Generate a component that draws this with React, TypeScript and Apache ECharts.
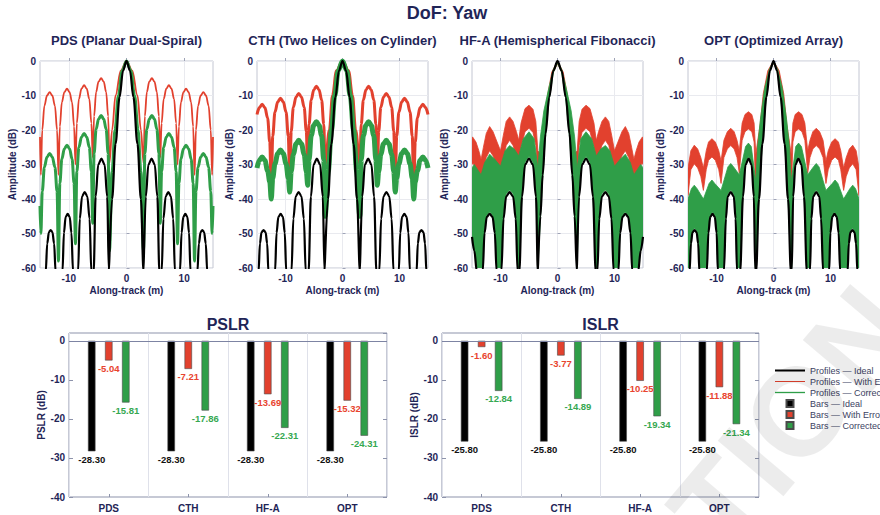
import React, { useEffect, useRef } from 'react';
import * as echarts from 'echarts';

// ---------- texts ----------
const MAIN_TITLE = 'DoF: Yaw';
const panelTitles = ['PDS (Planar Dual-Spiral)', 'CTH (Two Helices on Cylinder)', 'HF-A (Hemispherical Fibonacci)', 'OPT (Optimized Array)'];
const xTickValues = [-10, 0, 10];
const categories = ['PDS', 'CTH', 'HF-A', 'OPT'];
const legendNames = ['Profiles — Ideal', 'Profiles — With Errors', 'Profiles — Corrected', 'Bars — Ideal', 'Bars — With Errors', 'Bars — Corrected'];

// ---------- bar values ----------
const pslrIdeal = [-28.30, -28.30, -28.30, -28.30];
const pslrErr = [-5.04, -7.21, -13.69, -15.32];
const pslrCorr = [-15.81, -17.86, -22.31, -24.31];
const islrIdeal = [-25.80, -25.80, -25.80, -25.80];
const islrErr = [-1.60, -3.77, -10.25, -11.88];
const islrCorr = [-12.84, -14.89, -19.34, -21.34];

// ---------- profiles (x in m, amplitude in dB) ----------
const pdsIdeal = [
[-15,-64],[-14.0,-61],[-13.75,-52.9],[-13.45,-49.6],[-13.15,-49],[-12.85,-49.6],[-12.55,-52.9],[-12.3,-61],
[-11.1,-61],[-10.85,-49.8],[-10.55,-45.2],[-10.2,-44.3],[-9.85,-45.2],[-9.55,-49.8],[-9.27,-61],
[-8.4,-61],[-8.1,-45.7],[-7.7,-39.2],[-7.25,-38],[-6.8,-39.2],[-6.4,-45.7],[-6.1,-61],
[-5.7,-61],[-5.35,-39.3],[-4.9,-30],[-4.35,-28.3],[-3.8,-30],[-3.35,-39.3],[-3.05,-61],
[-2.95,-61],[-2.5,-40],[-1.9,-24],[-1.2,-10.5],[-0.6,-2.8],[0,0],
[0.6,-2.8],[1.2,-10.5],[1.9,-24],[2.5,-40],[2.95,-61],
[3.05,-61],[3.35,-39.3],[3.8,-30],[4.35,-28.3],[4.9,-30],[5.35,-39.3],[5.7,-61],
[6.1,-61],[6.4,-45.7],[6.8,-39.2],[7.25,-38],[7.7,-39.2],[8.1,-45.7],[8.4,-61],
[9.27,-61],[9.55,-49.8],[9.85,-45.2],[10.2,-44.3],[10.55,-45.2],[10.85,-49.8],[11.1,-61],
[12.3,-61],[12.55,-52.9],[12.85,-49.6],[13.15,-49],[13.45,-49.6],[13.75,-52.9],[14.0,-61],[15,-64]];
const pdsErr = [
[-15,-22],[-14.85,-33],[-14.61,-20],[-14.24,-13],[-13.78,-10],[-13.32,-9],[-12.87,-10],[-12.41,-13],[-12.04,-20],[-11.8,-33],
[-11.56,-19],[-11.21,-12],[-10.77,-9],[-10.32,-8],[-9.88,-9],[-9.44,-12],[-9.09,-19],[-8.85,-30],
[-8.61,-18],[-8.25,-11],[-7.8,-8],[-7.35,-7],[-6.9,-8],[-6.45,-11],[-6.09,-18],[-5.85,-28],
[-5.62,-16],[-5.27,-9],[-4.85,-6],[-4.4,-5],[-3.95,-6],[-3.53,-9],[-3.18,-16],[-2.95,-29.5],
[-2.5,-20],[-1.9,-10],[-1.0,-2.8],[0,0],
[1.0,-2.8],[1.9,-10],[2.5,-20],[2.95,-29.5],
[3.18,-16],[3.53,-9],[3.95,-6],[4.4,-5],[4.85,-6],[5.27,-9],[5.62,-16],[5.85,-28],
[6.09,-18],[6.45,-11],[6.9,-8],[7.35,-7],[7.8,-8],[8.25,-11],[8.61,-18],[8.85,-30],
[9.09,-19],[9.44,-12],[9.88,-9],[10.32,-8],[10.77,-9],[11.21,-12],[11.56,-19],[11.8,-33],
[12.04,-20],[12.41,-13],[12.87,-10],[13.32,-9],[13.78,-10],[14.24,-13],[14.61,-20],[14.85,-33],[15,-22]];
const pdsCorr = [
[-15,-42],[-14.85,-50],[-14.61,-37.8],[-14.24,-30.8],[-13.78,-27.8],[-13.32,-26.8],[-12.87,-27.8],[-12.41,-30.8],[-12.04,-37.8],[-11.8,-58],
[-11.56,-35.4],[-11.21,-28.4],[-10.77,-25.4],[-10.32,-24.4],[-9.88,-25.4],[-9.44,-28.4],[-9.09,-35.4],[-8.85,-53],
[-8.61,-32],[-8.25,-25],[-7.8,-22],[-7.35,-21],[-6.9,-22],[-6.45,-25],[-6.09,-32],[-5.85,-47],
[-5.62,-26.8],[-5.27,-19.8],[-4.85,-16.8],[-4.4,-15.8],[-3.95,-16.8],[-3.53,-19.8],[-3.18,-26.8],[-2.95,-55],
[-2.5,-32],[-2.0,-20],[-1.4,-10],[-0.75,-2.8],[0,0],
[0.75,-2.8],[1.4,-10],[2.0,-20],[2.5,-32],[2.95,-55],
[3.18,-26.8],[3.53,-19.8],[3.95,-16.8],[4.4,-15.8],[4.85,-16.8],[5.27,-19.8],[5.62,-26.8],[5.85,-47],
[6.09,-32],[6.45,-25],[6.9,-22],[7.35,-21],[7.8,-22],[8.25,-25],[8.61,-32],[8.85,-53],
[9.09,-35.4],[9.44,-28.4],[9.88,-25.4],[10.32,-24.4],[10.77,-25.4],[11.21,-28.4],[11.56,-35.4],[11.8,-58],
[12.04,-37.8],[12.41,-30.8],[12.87,-27.8],[13.32,-26.8],[13.78,-27.8],[14.24,-30.8],[14.61,-37.8],[14.85,-50],[15,-42]];

const cthIdeal = [
[-15,-64],[-14.72,-61],[-14.49,-52.9],[-14.2,-49.6],[-13.85,-49],[-13.5,-49.6],[-13.21,-52.9],[-13.0,-61],
[-11.83,-61],[-11.57,-49.8],[-11.25,-45.2],[-10.85,-44.3],[-10.45,-45.2],[-10.13,-49.8],[-9.87,-61],
[-8.95,-61],[-8.62,-45.7],[-8.2,-39.2],[-7.7,-38],[-7.2,-39.2],[-6.78,-45.7],[-6.45,-61],
[-5.95,-61],[-5.54,-39.3],[-5.07,-30],[-4.5,-28.3],[-3.93,-30],[-3.46,-39.3],[-3.15,-61],
[-3.05,-61],[-2.55,-40],[-1.95,-24],[-1.25,-10.5],[-0.62,-2.8],[0,0],
[0.62,-2.8],[1.25,-10.5],[1.95,-24],[2.55,-40],[3.05,-61],
[3.15,-61],[3.46,-39.3],[3.93,-30],[4.5,-28.3],[5.07,-30],[5.54,-39.3],[5.95,-61],
[6.45,-61],[6.78,-45.7],[7.2,-39.2],[7.7,-38],[8.2,-39.2],[8.62,-45.7],[8.95,-61],
[9.87,-61],[10.13,-49.8],[10.45,-45.2],[10.85,-44.3],[11.25,-45.2],[11.57,-49.8],[11.83,-61],
[13.0,-61],[13.21,-52.9],[13.5,-49.6],[13.85,-49],[14.2,-49.6],[14.49,-52.9],[14.72,-61],[15,-64]];
const cthErr = [
[-15,-15.5],[-14.58,-13.5],[-14.1,-12.5],[-13.62,-13.5],[-13.14,-16.5],[-12.76,-23.5],[-12.5,-38],
[-12.24,-21.8],[-11.85,-14.8],[-11.36,-11.8],[-10.88,-10.8],[-10.39,-11.8],[-9.9,-14.8],[-9.51,-21.8],[-9.25,-36.5],
[-9.0,-20.4],[-8.62,-13.4],[-8.15,-10.4],[-7.68,-9.4],[-7.2,-10.4],[-6.73,-13.4],[-6.35,-20.4],[-6.1,-33],
[-5.86,-18.3],[-5.49,-11.3],[-5.03,-8.3],[-4.58,-7.3],[-4.12,-8.3],[-3.66,-11.3],[-3.29,-18.3],[-3.05,-30],
[-2.3,-20],[-1.75,-10],[-1.05,-2.8],[0,0],
[1.05,-2.8],[1.75,-10],[2.3,-20],[3.05,-30],
[3.29,-18.3],[3.66,-11.3],[4.12,-8.3],[4.58,-7.3],[5.03,-8.3],[5.49,-11.3],[5.86,-18.3],[6.1,-33],
[6.35,-20.4],[6.73,-13.4],[7.2,-10.4],[7.68,-9.4],[8.15,-10.4],[8.62,-13.4],[9.0,-20.4],[9.25,-36.5],
[9.51,-21.8],[9.9,-14.8],[10.39,-11.8],[10.88,-10.8],[11.36,-11.8],[11.85,-14.8],[12.24,-21.8],[12.5,-38],
[12.76,-23.5],[13.14,-16.5],[13.62,-13.5],[14.1,-12.5],[14.58,-13.5],[15,-15.5]];
const cthCorr = [
[-15,-31],[-14.58,-28.8],[-14.1,-27.8],[-13.62,-28.8],[-13.14,-31.8],[-12.76,-35],[-12.5,-40],
[-12.24,-34],[-11.85,-29.8],[-11.36,-26.8],[-10.88,-25.8],[-10.39,-26.8],[-9.9,-29.8],[-9.51,-34],[-9.25,-38],
[-9.0,-32],[-8.62,-27],[-8.15,-24],[-7.68,-23],[-7.2,-24],[-6.73,-27],[-6.35,-32],[-6.1,-36],
[-5.86,-28.6],[-5.49,-21.6],[-5.03,-18.6],[-4.58,-17.6],[-4.12,-18.6],[-3.66,-21.6],[-3.29,-28.6],[-3.05,-45],
[-2.5,-32],[-1.95,-20],[-1.35,-10],[-0.75,-2.8],[0,0],
[0.75,-2.8],[1.35,-10],[1.95,-20],[2.5,-32],[3.05,-45],
[3.29,-28.6],[3.66,-21.6],[4.12,-18.6],[4.58,-17.6],[5.03,-18.6],[5.49,-21.6],[5.86,-28.6],[6.1,-36],
[6.35,-32],[6.73,-27],[7.2,-24],[7.68,-23],[8.15,-24],[8.62,-27],[9.0,-32],[9.25,-38],
[9.51,-34],[9.9,-29.8],[10.39,-26.8],[10.88,-25.8],[11.36,-26.8],[11.85,-29.8],[12.24,-34],[12.5,-40],
[12.76,-35],[13.14,-31.8],[13.62,-28.8],[14.1,-27.8],[14.58,-28.8],[15,-31]];

const hfaIdeal = [
[-15,-51],[-14.6,-55],[-14.15,-61],
[-13.12,-61],[-12.8,-49.8],[-12.4,-45.2],[-11.9,-44.3],[-11.4,-45.2],[-11.0,-49.8],[-10.68,-61],
[-9.85,-61],[-9.47,-45.7],[-9.0,-39.2],[-8.4,-38],[-7.8,-39.2],[-7.33,-45.7],[-7.0,-61],
[-6.7,-61],[-6.22,-39.3],[-5.68,-30],[-5.0,-28.3],[-4.32,-30],[-3.78,-39.3],[-3.45,-61],
[-3.4,-61],[-3.0,-45],[-2.6,-33],[-2.1,-21],[-1.45,-10.5],[-0.72,-2.8],[0,0],
[0.72,-2.8],[1.45,-10.5],[2.1,-21],[2.6,-33],[3.0,-45],[3.4,-61],
[3.45,-61],[3.78,-39.3],[4.32,-30],[5.0,-28.3],[5.68,-30],[6.22,-39.3],[6.7,-61],
[7.0,-61],[7.33,-45.7],[7.8,-39.2],[8.4,-38],[9.0,-39.2],[9.47,-45.7],[9.85,-61],
[10.68,-61],[11.0,-49.8],[11.4,-45.2],[11.9,-44.3],[12.4,-45.2],[12.8,-49.8],[13.12,-61],
[14.15,-61],[14.6,-55],[15,-51]];
const hfaErrUp = [
[-15,-22.5],[-14.9,-22],[-14.3,-23.5],[-13.8,-26],[-13.4,-28.5],[-13.0,-25],[-12.5,-21],[-11.9,-19],[-11.3,-20.5],[-10.6,-23.5],[-10.0,-26],[-9.5,-21.5],[-9.0,-17.5],[-8.4,-16.2],[-7.8,-17.5],[-7.2,-20.5],[-6.8,-23],[-6.4,-18],[-5.7,-13.8],[-5.0,-12.8],[-4.3,-14],[-3.8,-17.5],[-3.45,-26],[-2.95,-27],[-2.35,-20],[-1.75,-10],[-1.0,-3.2],[0,0],
[1.0,-3.2],[1.75,-10],[2.35,-20],[2.95,-27],[3.45,-26],[3.8,-17.5],[4.3,-14],[5.0,-12.8],[5.7,-13.8],[6.4,-18],[6.8,-23],[7.2,-20.5],[7.8,-17.5],[8.4,-16.2],[9.0,-17.5],[9.5,-21.5],[10.0,-26],[10.6,-23.5],[11.3,-20.5],[11.9,-19],[12.5,-21],[13.0,-25],[13.4,-28.5],[13.8,-26],[14.3,-23.5],[14.9,-22],[15,-22.5]];
const hfaErrLo = [
[-15,-30],[-14.9,-29.5],[-14.3,-31],[-13.8,-33.5],[-13.4,-36],[-13.0,-32.5],[-12.5,-28],[-11.9,-26],[-11.3,-27.5],[-10.6,-30.5],[-10.0,-33.5],[-9.5,-28.5],[-9.0,-24.5],[-8.4,-23],[-7.8,-24.5],[-7.2,-27.5],[-6.8,-30.5],[-6.4,-25],[-5.7,-20.5],[-5.0,-19.5],[-4.3,-20.7],[-3.8,-24.5],[-3.45,-34],[-2.95,-31],[-2.3,-22],[-1.65,-11.5],[-0.9,-3.8],[0,-0.8],
[0.9,-3.8],[1.65,-11.5],[2.3,-22],[2.95,-31],[3.45,-34],[3.8,-24.5],[4.3,-20.7],[5.0,-19.5],[5.7,-20.5],[6.4,-25],[6.8,-30.5],[7.2,-27.5],[7.8,-24.5],[8.4,-23],[9.0,-24.5],[9.5,-28.5],[10.0,-33.5],[10.6,-30.5],[11.3,-27.5],[11.9,-26],[12.5,-28],[13.0,-32.5],[13.4,-36],[13.8,-33.5],[14.3,-31],[14.9,-29.5],[15,-30]];
const hfaCorrUp = [
[-15,-31],[-14.6,-30],[-14.0,-31.5],[-13.4,-33],[-12.8,-29.5],[-11.9,-27],[-11.0,-28.5],[-10.0,-30.5],[-9.2,-26],[-8.4,-24.5],[-7.6,-25.5],[-6.8,-27.5],[-6.0,-22.5],[-5.0,-20.5],[-4.1,-22.5],[-3.45,-31],[-3.0,-22],[-2.4,-14.5],[-1.55,-8],[-0.75,-2.5],[0,0],
[0.75,-2.5],[1.55,-8],[2.4,-14.5],[3.0,-22],[3.45,-31],[4.1,-22.5],[5.0,-20.5],[6.0,-22.5],[6.8,-27.5],[7.6,-25.5],[8.4,-24.5],[9.2,-26],[10.0,-30.5],[11.0,-28.5],[11.9,-27],[12.8,-29.5],[13.4,-33],[14.0,-31.5],[14.6,-30],[15,-31]];
const hfaCorrLo = [
[-15,-51],[-14.6,-55],[-14.15,-60],[-13.12,-60],[-12.8,-49],[-12.4,-44.7],[-11.9,-43.8],[-11.4,-44.7],[-11.0,-49],[-10.68,-60],[-9.85,-60],[-9.47,-44.5],[-9.0,-38.5],[-8.4,-37.4],[-7.8,-38.5],[-7.33,-44.5],[-7.0,-60],[-6.7,-60],[-6.22,-38],[-5.68,-29.3],[-5.0,-27.7],[-4.32,-29.3],[-3.78,-38],[-3.45,-60],[-3.0,-46],[-2.6,-34],[-2.1,-22],[-1.45,-11],[-0.72,-3.3],[0,-0.6],
[0.72,-3.3],[1.45,-11],[2.1,-22],[2.6,-34],[3.0,-46],[3.45,-60],[3.78,-38],[4.32,-29.3],[5.0,-27.7],[5.68,-29.3],[6.22,-38],[6.7,-60],[7.0,-60],[7.33,-44.5],[7.8,-38.5],[8.4,-37.4],[9.0,-38.5],[9.47,-44.5],[9.85,-60],[10.68,-60],[11.0,-49],[11.4,-44.7],[11.9,-43.8],[12.4,-44.7],[12.8,-49],[13.12,-60],[14.15,-60],[14.6,-55],[15,-51]];

const optIdeal = [
[-15,-64],[-14.72,-61],[-14.49,-52.9],[-14.2,-49.6],[-13.85,-49],[-13.5,-49.6],[-13.21,-52.9],[-13.0,-61],
[-11.7,-61],[-11.42,-49.8],[-11.1,-45.2],[-10.7,-44.3],[-10.3,-45.2],[-9.98,-49.8],[-9.75,-61],
[-8.7,-61],[-8.35,-45.7],[-8.03,-39.2],[-7.5,-38],[-6.97,-39.2],[-6.65,-45.7],[-6.4,-61],
[-5.85,-61],[-5.35,-39.3],[-4.9,-30],[-4.37,-28.3],[-3.85,-30],[-3.45,-39.3],[-3.2,-61],
[-3.05,-61],[-2.55,-40],[-1.95,-24],[-1.25,-10.5],[-0.62,-2.8],[0,0],
[0.62,-2.8],[1.25,-10.5],[1.95,-24],[2.55,-40],[3.05,-61],
[3.2,-61],[3.45,-39.3],[3.85,-30],[4.37,-28.3],[4.9,-30],[5.35,-39.3],[5.85,-61],
[6.4,-61],[6.65,-45.7],[6.97,-39.2],[7.5,-38],[8.03,-39.2],[8.35,-45.7],[8.7,-61],
[9.75,-61],[9.98,-49.8],[10.3,-45.2],[10.7,-44.3],[11.1,-45.2],[11.42,-49.8],[11.7,-61],
[13.0,-61],[13.21,-52.9],[13.5,-49.6],[13.85,-49],[14.2,-49.6],[14.49,-52.9],[14.72,-61],[15,-64]];
const optErrUp = [
[-15,-31],[-14.5,-26],[-13.9,-24.4],[-13.3,-25.5],[-12.75,-28],[-12.3,-31],[-11.8,-26],[-11.4,-23.5],[-10.8,-22.5],[-10.2,-23.5],[-9.6,-26],[-9.2,-29],[-8.7,-23],[-8.1,-20.5],[-7.5,-19.5],[-6.9,-20.5],[-6.4,-23],[-6.0,-26],[-5.5,-18],[-5.0,-15.5],[-4.4,-14.7],[-3.8,-15.5],[-3.4,-18],[-3.1,-27],[-2.85,-24],[-2.35,-18.5],[-1.8,-9.5],[-1.0,-2.8],[0,0],
[1.0,-2.8],[1.8,-9.5],[2.35,-18.5],[2.85,-24],[3.1,-27],[3.4,-18],[3.8,-15.5],[4.4,-14.7],[5.0,-15.5],[5.5,-18],[6.0,-26],[6.4,-23],[6.9,-20.5],[7.5,-19.5],[8.1,-20.5],[8.7,-23],[9.2,-29],[9.6,-26],[10.2,-23.5],[10.8,-22.5],[11.4,-23.5],[11.8,-26],[12.3,-31],[12.75,-28],[13.3,-25.5],[13.9,-24.4],[14.5,-26],[15,-31]];
const optErrLo = [
[-15,-39],[-14.5,-31.5],[-13.9,-29.8],[-13.3,-31],[-12.75,-33.5],[-12.3,-37.5],[-11.8,-31.5],[-11.4,-28.8],[-10.8,-27.8],[-10.2,-28.8],[-9.6,-31.5],[-9.2,-35.5],[-8.7,-28],[-8.1,-25.5],[-7.5,-24.5],[-6.9,-25.5],[-6.4,-28],[-6.0,-32.5],[-5.5,-23],[-5.0,-20.5],[-4.4,-19.7],[-3.8,-20.5],[-3.4,-23.5],[-3.1,-40],[-2.85,-29],[-2.3,-21],[-1.7,-11],[-0.9,-3.3],[0,-0.8],
[0.9,-3.3],[1.7,-11],[2.3,-21],[2.85,-29],[3.1,-40],[3.4,-23.5],[3.8,-20.5],[4.4,-19.7],[5.0,-20.5],[5.5,-23],[6.0,-32.5],[6.4,-28],[6.9,-25.5],[7.5,-24.5],[8.1,-25.5],[8.7,-28],[9.2,-35.5],[9.6,-31.5],[10.2,-28.8],[10.8,-27.8],[11.4,-28.8],[11.8,-31.5],[12.3,-37.5],[12.75,-33.5],[13.3,-31],[13.9,-29.8],[14.5,-31.5],[15,-39]];
const optCorrUp = [
[-15,-40],[-14.4,-37],[-13.9,-36],[-13.4,-37],[-12.3,-40],[-11.3,-35.5],[-10.8,-34.5],[-10.3,-35.5],[-9.2,-37.5],[-8.0,-30.7],[-7.5,-29.7],[-7.0,-30.7],[-6.0,-33],[-4.9,-24.8],[-4.4,-23.8],[-3.9,-24.8],[-3.1,-35],[-2.8,-25],[-2.3,-17],[-1.55,-8],[-0.75,-2.5],[0,0],
[0.75,-2.5],[1.55,-8],[2.3,-17],[2.8,-25],[3.1,-35],[3.9,-24.8],[4.4,-23.8],[4.9,-24.8],[6.0,-33],[7.0,-30.7],[7.5,-29.7],[8.0,-30.7],[9.2,-37.5],[10.3,-35.5],[10.8,-34.5],[11.3,-35.5],[12.3,-40],[13.4,-37],[13.9,-36],[14.4,-37],[15,-40]];
const optCorrLo = [
[-15,-60],[-14.72,-60],[-14.49,-52.4],[-14.2,-49.1],[-13.85,-48.5],[-13.5,-49.1],[-13.21,-52.4],[-13.0,-60],[-11.7,-60],[-11.42,-49.3],[-11.1,-44.7],[-10.7,-43.8],[-10.3,-44.7],[-9.98,-49.3],[-9.75,-60],[-8.7,-60],[-8.35,-45],[-8.03,-38.6],[-7.5,-37.4],[-6.97,-38.6],[-6.65,-45],[-6.4,-60],[-5.85,-60],[-5.35,-38.3],[-4.9,-29.4],[-4.37,-27.7],[-3.85,-29.4],[-3.45,-38.3],[-3.2,-60],[-3.05,-60],[-2.55,-40],[-1.95,-23.5],[-1.25,-10.5],[-0.62,-2.8],[0,-0.6],
[0.62,-2.8],[1.25,-10.5],[1.95,-23.5],[2.55,-40],[3.05,-60],[3.2,-60],[3.45,-38.3],[3.85,-29.4],[4.37,-27.7],[4.9,-29.4],[5.35,-38.3],[5.85,-60],[6.4,-60],[6.65,-45],[6.97,-38.6],[7.5,-37.4],[8.03,-38.6],[8.35,-45],[8.7,-60],[9.75,-60],[9.98,-49.3],[10.3,-44.7],[10.7,-43.8],[11.1,-44.7],[11.42,-49.3],[11.7,-60],[13.0,-60],[13.21,-52.4],[13.5,-49.1],[13.85,-48.5],[14.2,-49.1],[14.49,-52.4],[14.72,-60],[15,-60]];

// ---------- style ----------
const FONT = '"Liberation Sans", Arial, Helvetica, sans-serif';
const NAVY = '#1f2557';
const RED = '#e2412e';
const GREEN = '#2f9e48';
const BLACK = '#000000';
const LEGEND_TEXT = '#3c4262';

const topGrids = [
  { left: 40, width: 173 },
  { left: 257, width: 171 },
  { left: 472, width: 171 },
  { left: 688, width: 171 },
];
const barGrids = [
  { left: 69, width: 318 },
  { left: 442, width: 317 },
];

function lineSeries(name: string, grid: number, data: number[][], color: string, width: number) {
  return {
    type: 'line', name, xAxisIndex: grid, yAxisIndex: grid, data,
    smooth: 0.35, smoothMonotone: 'x', showSymbol: false, symbol: 'none',
    clip: true, silent: true,
    color, itemStyle: { color }, lineStyle: { color, width, join: 'round' },
  };
}

function bandSeries(name: string, grid: number, up: number[][], lo: number[][], color: string) {
  const outline = up.concat(lo.slice().reverse());
  return {
    type: 'custom', name, xAxisIndex: grid, yAxisIndex: grid,
    data: outline, clip: true, silent: true,
    color, itemStyle: { color },
    renderItem: (params: any, api: any) => {
      if (params.dataIndex !== 0) return null;
      const pts = outline.map((p) => api.coord(p));
      return { type: 'polygon', shape: { points: pts }, style: { fill: color, stroke: color, lineWidth: 0.8, lineJoin: 'round' } };
    },
  };
}

function barSeries(name: string, grid: number, data: number[], color: string, labelColor: string) {
  return {
    type: 'bar', name, xAxisIndex: grid, yAxisIndex: grid, data,
    barWidth: 7.5, barGap: '127%', color,
    itemStyle: { color, borderColor: '#4a4a4a', borderWidth: 0.6 },
    label: {
      show: true, position: 'bottom', distance: 3,
      formatter: (p: any) => Number(p.value).toFixed(2),
      color: labelColor, fontSize: 9.5, fontWeight: 'bold', fontFamily: FONT,
    },
  };
}

function buildOption() {
  const grid: any[] = [];
  const xAxis: any[] = [];
  const yAxis: any[] = [];
  const title: any[] = [];
  const series: any[] = [];

  title.push({ text: MAIN_TITLE, left: 447, top: 4, textAlign: 'center', padding: 0,
    textStyle: { fontSize: 18, fontWeight: 'bold', color: NAVY, fontFamily: FONT } });

  topGrids.forEach((g, i) => {
    grid.push({ left: g.left, width: g.width, top: 61, height: 207, show: true, borderColor: '#c3c6d2', borderWidth: 1 });
    title.push({ text: panelTitles[i], left: g.left + g.width / 2, top: 34, textAlign: 'center', padding: 0,
      textStyle: { fontSize: 13, fontWeight: 'bold', color: NAVY, fontFamily: FONT } });
    xAxis.push({
      type: 'value', gridIndex: i, min: -15, max: 15,
      name: 'Along-track (m)', nameLocation: 'middle', nameGap: 17,
      nameTextStyle: { fontSize: 10, fontWeight: 'bold', color: NAVY, fontFamily: FONT },
      axisLine: { show: false },
      axisTick: { show: true, inside: true, length: 3, customValues: xTickValues, lineStyle: { color: '#9ea3b6' } },
      axisLabel: { customValues: xTickValues, fontSize: 10, fontWeight: 'bold', color: NAVY, fontFamily: FONT, margin: 5 },
      splitLine: { show: true, lineStyle: { color: '#e9eaef', width: 1 } },
    });
    yAxis.push({
      type: 'value', gridIndex: i, min: -60, max: 0, interval: 10,
      name: 'Amplitude (dB)', nameLocation: 'middle', nameGap: 21,
      nameTextStyle: { fontSize: 10, fontWeight: 'bold', color: NAVY, fontFamily: FONT },
      axisLine: { show: false },
      axisTick: { show: true, inside: true, length: 3, lineStyle: { color: '#9ea3b6' } },
      axisLabel: { fontSize: 10, fontWeight: 'bold', color: NAVY, fontFamily: FONT, margin: 4 },
      splitLine: { show: true, lineStyle: { color: '#e9eaef', width: 1 } },
    });
  });

  const barTitles = ['PSLR', 'ISLR'];
  barGrids.forEach((g, j) => {
    const gi = 4 + j;
    grid.push({ left: g.left, width: g.width, top: 333, height: 164, show: true, borderColor: '#8d93ab', borderWidth: 1 });
    title.push({ text: barTitles[j], left: g.left + g.width / 2, top: 316, textAlign: 'center', padding: 0,
      textStyle: { fontSize: 16, fontWeight: 'bold', color: NAVY, fontFamily: FONT } });
    xAxis.push({
      type: 'category', gridIndex: gi, data: categories,
      axisLine: { show: false, onZero: false },
      axisTick: { show: true, inside: true, length: 3, alignWithLabel: true, lineStyle: { color: '#8d93ab' } },
      axisLabel: { fontSize: 10, fontWeight: 'bold', color: NAVY, fontFamily: FONT, margin: 6 },
      splitLine: { show: true, lineStyle: { color: '#dfe1ea', width: 1 } },
    });
    yAxis.push({
      type: 'value', gridIndex: gi, min: -40, max: 2, interval: 10,
      name: barTitles[j] + ' (dB)', nameLocation: 'middle', nameGap: 22,
      nameTextStyle: { fontSize: 10, fontWeight: 'bold', color: NAVY, fontFamily: FONT },
      axisLine: { show: false },
      axisTick: { show: true, inside: true, length: 4, lineStyle: { color: '#8d93ab' } },
      axisLabel: { showMaxLabel: false, fontSize: 10, fontWeight: 'bold', color: NAVY, fontFamily: FONT, margin: 4 },
      splitLine: { show: false },
    });
  });
  barGrids.forEach((g, j) => {
    yAxis.push({
      type: 'value', gridIndex: 4 + j, min: -40, max: 2, interval: 10, position: 'right',
      axisLine: { show: false }, axisLabel: { show: false }, splitLine: { show: false },
      axisTick: { show: true, inside: true, length: 4, lineStyle: { color: '#8d93ab' } },
    });
  });

  const ideal = legendNames[0], red = legendNames[1], green = legendNames[2];
  series.push(lineSeries(red, 0, pdsErr, RED, 1.8));
  series.push(lineSeries(green, 0, pdsCorr, GREEN, 3));
  series.push(lineSeries(ideal, 0, pdsIdeal, BLACK, 2.2));
  series.push(lineSeries(red, 1, cthErr, RED, 3));
  series.push(lineSeries(green, 1, cthCorr, GREEN, 5));
  series.push(lineSeries(ideal, 1, cthIdeal, BLACK, 2.2));
  series.push(bandSeries(red, 2, hfaErrUp, hfaErrLo, RED));
  series.push(bandSeries(green, 2, hfaCorrUp, hfaCorrLo, GREEN));
  series.push(lineSeries(ideal, 2, hfaIdeal, BLACK, 2.2));
  series.push(bandSeries(red, 3, optErrUp, optErrLo, RED));
  series.push(bandSeries(green, 3, optCorrUp, optCorrLo, GREEN));
  series.push(lineSeries(ideal, 3, optIdeal, BLACK, 2.2));

  const zeroLine = {
    silent: true, symbol: ['none', 'none'], label: { show: false },
    lineStyle: { color: '#7d84a3', width: 1, type: 'solid' }, data: [{ yAxis: 0 }],
  };
  const b0 = barSeries(legendNames[3], 4, pslrIdeal, '#000000', '#111111') as any;
  b0.markLine = zeroLine;
  series.push(b0);
  series.push(barSeries(legendNames[4], 4, pslrErr, RED, '#e8442f'));
  series.push(barSeries(legendNames[5], 4, pslrCorr, GREEN, '#36a851'));
  const b1 = barSeries(legendNames[3], 5, islrIdeal, '#000000', '#111111') as any;
  b1.markLine = zeroLine;
  series.push(b1);
  series.push(barSeries(legendNames[4], 5, islrErr, RED, '#e8442f'));
  series.push(barSeries(legendNames[5], 5, islrCorr, GREEN, '#36a851'));

  const legend = {
    orient: 'vertical', left: 775, top: 365, itemWidth: 30, itemHeight: 7, itemGap: 0, padding: 0,
    selectedMode: false,
    textStyle: { fontSize: 9, color: LEGEND_TEXT, fontFamily: FONT, lineHeight: 11 },
    data: [
      { name: legendNames[0], icon: 'path://M0,0H30V2H0Z' },
      { name: legendNames[1], icon: 'path://M0,0H60V2H0Z' },
      { name: legendNames[2], icon: 'path://M0,0H45V2H0Z' },
      { name: legendNames[3], icon: 'path://M0,0H10V10H0Z' },
      { name: legendNames[4], icon: 'path://M0,0H10V10H0Z' },
      { name: legendNames[5], icon: 'path://M0,0H10V10H0Z' },
    ],
  };

  const graphic = [
    {
      type: 'text', x: 888, y: 305, rotation: 0.87, z: 100, silent: true,
      style: { text: 'PUBLICATION', fontSize: 125, fontWeight: 'bold', fontFamily: FONT,
        fill: 'rgba(0,0,0,0.075)', align: 'right', verticalAlign: 'middle' },
    },
  ];

  return { animation: false, backgroundColor: '#ffffff', title, grid, xAxis, yAxis, series, legend, graphic };
}

export default function App() {
  const ref = useRef<HTMLDivElement>(null);
  useEffect(() => {
    if (!ref.current) return;
    const chart = echarts.init(ref.current, null, { renderer: 'svg' });
    chart.setOption(buildOption() as any);
    return () => chart.dispose();
  }, []);
  return <div ref={ref} style={{ position: 'fixed', left: 0, top: 0, width: 880, height: 515 }} />;
}
